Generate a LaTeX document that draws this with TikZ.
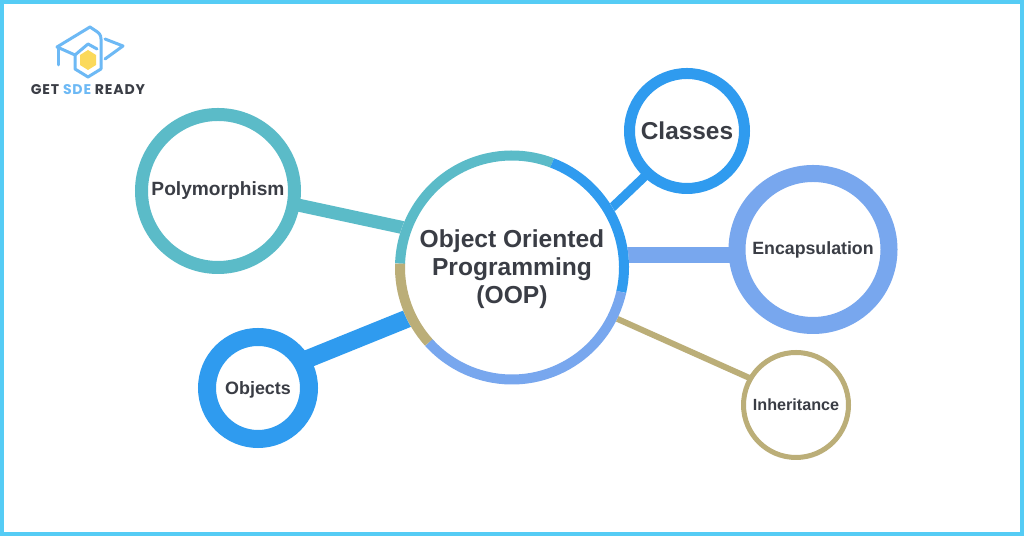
\documentclass[tikz,border=0pt]{standalone}
\usepackage{fontspec}
\setmainfont{Liberation Sans}
\newfontfamily\logofont[LetterSpace=6]{Poppins}
\usetikzlibrary{backgrounds}
\definecolor{frameblue}{HTML}{55CCF5}
\definecolor{tealc}{HTML}{5BBBC8}
\definecolor{bluec}{HTML}{2F9BEF}
\definecolor{lightc}{HTML}{78A7EE}
\definecolor{olivec}{HTML}{BBAE78}
\definecolor{logoc}{HTML}{6DB9F5}
\definecolor{hexc}{HTML}{FBD95A}
\definecolor{inkc}{HTML}{3A3D45}
\tikzset{
	every node/.style={align=center, inner sep=0pt, text=inkc, font=\bfseries},
	ring/.style n args={3}{circle, draw=#1, fill=white, line width=#2*0.02cm, minimum size=#3*0.02cm},
	link/.style n args={2}{draw=#1, line width=#2*0.02cm, shorten <=-3pt, shorten >=-3pt},
	oopseg/.style={line width=10*0.02cm},
	logoline/.style={draw=logoc, line width=3*0.02cm, line join=round, line cap=round}
}

\begin{document}
\begin{tikzpicture}[x=0.02cm, y=0.02cm]
	\useasboundingbox (0,0) rectangle (1024,536);
	\begin{scope}[on background layer]
		\draw [frameblue, line width=4*0.02cm, fill=white] (2,2) rectangle (1022,534);
	\end{scope}

	% main circle and its branches
	\node [circle, fill=white, minimum size=234*0.02cm, font=\fontsize{14}{16.2}\selectfont\bfseries] (oop) at (512,268.5) {\rule{0pt}{12pt}Object Oriented\\Programming\\(OOP)};
	\node [ring={tealc}{13}{153}, font=\fontsize{10.9}{13}\selectfont\bfseries] (poly) at (218,345) {Polymorphism};
	\node [ring={bluec}{11}{115}, font=\fontsize{13.9}{16}\selectfont\bfseries] (classes) at (687,405) {Classes};
	\node [ring={lightc}{17}{152}, font=\fontsize{10.1}{12}\selectfont\bfseries] (encap) at (813,286.5) {Encapsulation};
	\node [ring={bluec}{18}{102}, text depth=0pt, font=\fontsize{10.2}{12}\selectfont\bfseries] (objects) at (258,148) {Objects};
	\node [ring={olivec}{5}{105}, font=\fontsize{9.2}{11}\selectfont\bfseries] (inherit) at (796,131) {Inheritance};

	\begin{scope}[on background layer]
		\draw [link={tealc}{13}] (oop.160) -- (poly.-10);
		\draw [link={bluec}{9}] (oop.31) -- (classes.227);
		\draw [link={lightc}{16}] (oop.6) -- (encap.184 |- oop.6);
		\draw [link={bluec}{18}] (oop.206) -- (objects.30);
		\draw [link={olivec}{6}] (oop.-26) -- (inherit.150);
	\end{scope}

	\draw [oopseg, tealc] (oop.center) ++(178:112) arc (178:69:112);
	\draw [oopseg, bluec] (oop.center) ++(69:112) arc (69:-12.6:112);
	\draw [oopseg, lightc] (oop.center) ++(-12.6:112) arc (-12.6:-138:112);
	\draw [oopseg, olivec] (oop.center) ++(-138:112) arc (-138:-182:112);

	% logo
	\node [font=\fontsize{8}{9}\logofont\bfseries] (logotext) at (88,446) {GET {\color{logoc}SDE} READY};
	\draw [logoline] (57,489) -- (90,509) -- (96,505) .. controls (99,503) and (101,501) .. (101,497) -- (101,467) -- (88,459) -- (75,467) -- (75,481) -- cycle;
	\draw [logoline] (75,481) -- (88,492) -- (97,487);
	\draw [logoline] (105,497) -- (123,490) -- (105,477);
	\draw [logoline] (58,489) -- (58,471);
	\fill [hexc] (88,486) -- (96,481) -- (96,471) -- (88,466) -- (80,471) -- (80,481) -- cycle;
\end{tikzpicture}
\end{document}
